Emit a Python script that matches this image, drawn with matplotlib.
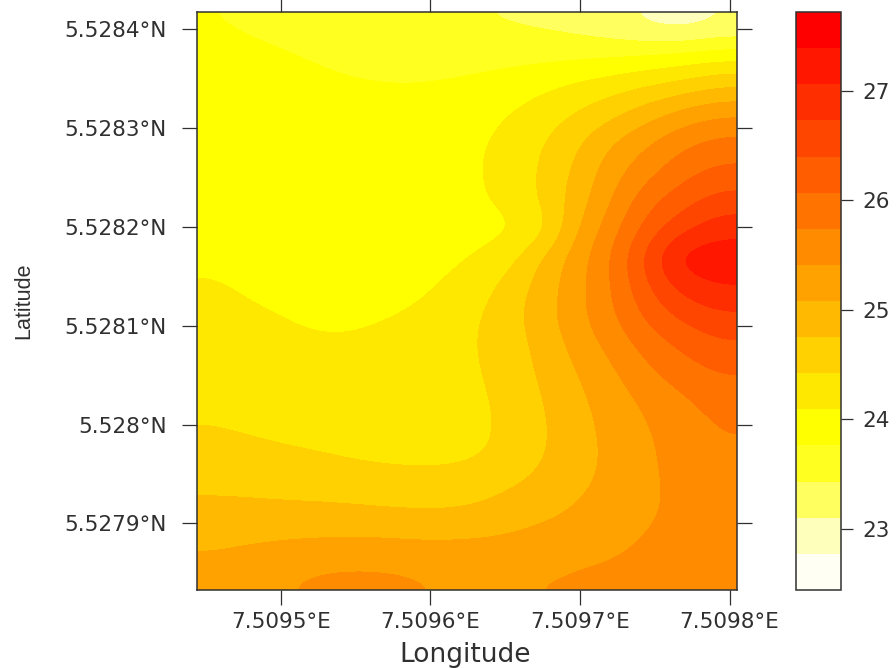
"""
Temperature-style level plot over longitude/latitude with a stepped heat colour bar.
"""

import numpy as np
import matplotlib
matplotlib.use("Agg")
import matplotlib.pyplot as plt
from matplotlib.colors import BoundaryNorm, ListedColormap

lon = [7.509456, 7.509480, 7.509504, 7.509528, 7.509552, 7.509576, 7.509600, 7.509624,
       7.509648, 7.509672, 7.509696, 7.509720, 7.509745, 7.509769, 7.509793]
lat = [5.528403, 5.528374, 5.528344, 5.528315, 5.528286, 5.528256, 5.528227, 5.528198, 5.528168, 5.528139,
       5.528110, 5.528080, 5.528052, 5.528023, 5.527994, 5.527964, 5.527935, 5.527906, 5.527876, 5.527847]

# one row per latitude, north to south
values = [
    [23.77, 23.70, 23.66, 23.62, 23.58, 23.54, 23.48, 23.44, 23.42, 23.38, 23.32, 23.20, 23.04, 22.94, 23.10],
    [23.95, 23.85, 23.78, 23.72, 23.67, 23.64, 23.62, 23.62, 23.64, 23.66, 23.68, 23.72, 23.78, 23.86, 23.95],
    [24.00, 23.95, 23.88, 23.82, 23.78, 23.76, 23.77, 23.82, 23.90, 24.00, 24.13, 24.25, 24.39, 24.52, 24.70],
    [24.02, 23.98, 23.95, 23.92, 23.90, 23.90, 23.92, 23.98, 24.06, 24.22, 24.43, 24.65, 24.93, 25.20, 25.36],
    [24.03, 24.00, 23.98, 23.97, 23.97, 23.97, 24.00, 24.03, 24.13, 24.38, 24.67, 25.07, 25.38, 25.68, 25.85],
    [24.04, 24.02, 24.00, 24.00, 24.00, 24.00, 24.02, 24.03, 24.17, 24.43, 24.80, 25.27, 25.62, 25.96, 26.15],
    [24.04, 24.02, 24.01, 24.00, 24.00, 24.01, 24.03, 24.03, 24.12, 24.43, 24.88, 25.39, 25.97, 26.27, 26.53],
    [24.05, 24.03, 24.02, 24.01, 24.01, 24.02, 24.03, 24.03, 23.98, 24.18, 25.02, 25.60, 26.20, 26.65, 26.95],
    [24.05, 24.03, 24.02, 24.01, 24.01, 24.02, 24.04, 24.05, 24.22, 24.74, 25.24, 25.75, 26.55, 27.30, 27.30],
    [24.11, 24.06, 24.03, 24.01, 24.00, 24.02, 24.06, 24.18, 24.50, 24.85, 25.27, 25.72, 26.38, 26.88, 27.08],
    [24.16, 24.12, 24.08, 24.05, 24.05, 24.08, 24.15, 24.33, 24.58, 24.90, 25.30, 25.68, 26.15, 26.50, 26.68],
    [24.23, 24.19, 24.14, 24.11, 24.12, 24.18, 24.27, 24.38, 24.53, 24.84, 25.17, 25.52, 25.88, 26.15, 26.36],
    [24.29, 24.27, 24.24, 24.22, 24.22, 24.26, 24.31, 24.37, 24.48, 24.79, 25.06, 25.34, 25.67, 25.92, 26.08],
    [24.36, 24.34, 24.33, 24.32, 24.32, 24.34, 24.36, 24.37, 24.43, 24.72, 24.98, 25.24, 25.47, 25.67, 25.88],
    [24.43, 24.39, 24.37, 24.36, 24.36, 24.37, 24.38, 24.37, 24.42, 24.69, 24.93, 25.18, 25.39, 25.57, 25.74],
    [24.58, 24.52, 24.47, 24.43, 24.39, 24.37, 24.37, 24.38, 24.46, 24.72, 24.94, 25.15, 25.35, 25.55, 25.70],
    [24.71, 24.69, 24.66, 24.64, 24.60, 24.56, 24.54, 24.57, 24.73, 24.88, 25.02, 25.17, 25.35, 25.50, 25.62],
    [24.88, 24.89, 24.89, 24.89, 24.88, 24.86, 24.84, 24.87, 24.95, 25.03, 25.13, 25.28, 25.39, 25.47, 25.53],
    [25.05, 25.10, 25.14, 25.17, 25.19, 25.17, 25.15, 25.16, 25.17, 25.24, 25.32, 25.36, 25.45, 25.50, 25.52],
    [25.23, 25.30, 25.40, 25.47, 25.49, 25.47, 25.41, 25.37, 25.39, 25.41, 25.44, 25.47, 25.50, 25.52, 25.54],
]

levels = [22.44, 22.77, 23.10, 23.43, 23.76, 24.09, 24.42, 24.75, 25.08,
          25.41, 25.74, 26.07, 26.40, 26.73, 27.06, 27.39, 27.72]
band_colors = ["#FFFFF4", "#FFFFBC", "#FFFF60", "#FFFF20", "#FFFF00", "#FFE800", "#FFD100", "#FFB900",
               "#FFA200", "#FF8B00", "#FF7400", "#FF5D00", "#FF4600", "#FF2E00", "#FF1700", "#FF0000"]

lon_ticks = [7.5095, 7.5096, 7.5097, 7.5098]
lon_labels = ["7.5095°E", "7.5096°E", "7.5097°E", "7.5098°E"]
lat_ticks = [5.5279, 5.5280, 5.5281, 5.5282, 5.5283, 5.5284]
lat_labels = ["5.5279°N", "5.528°N", "5.5281°N", "5.5282°N", "5.5283°N", "5.5284°N"]
bar_ticks = [23, 24, 25, 26, 27]

W, H = 896, 668
INK = "#303030"

plt.rcParams["font.family"] = ["DejaVu Sans"]

fig = plt.figure(figsize=(W / 100, H / 100), dpi=100)
ax = fig.add_axes([197 / W, (H - 590) / H, 540 / W, 578 / H])
cax = fig.add_axes([796 / W, (H - 590) / H, 45 / W, 578 / H])

cmap = ListedColormap(band_colors)
norm = BoundaryNorm(levels, cmap.N)

half_x = (lon[1] - lon[0]) / 2
half_y = (lat[0] - lat[1]) / 2
im = ax.imshow(np.array(values), cmap=cmap, norm=norm, aspect="auto",
               interpolation="bicubic", interpolation_stage="data",
               extent=[lon[0] - half_x, lon[-1] + half_x, lat[-1] - half_y, lat[0] + half_y])

ax.set_xticks(lon_ticks)
ax.set_xticklabels(lon_labels)
ax.set_yticks(lat_ticks)
ax.set_yticklabels(lat_labels)
ax.tick_params(axis="x", top=True, direction="out", length=10.8, width=0.9, color=INK,
               labelsize=15.5, labelcolor=INK, pad=5)
ax.tick_params(axis="y", right=True, direction="out", length=10.8, width=0.9, color=INK,
               labelsize=15.5, labelcolor=INK, pad=11)
for spine in ax.spines.values():
    spine.set_color(INK)
    spine.set_linewidth(1.1)

fig.text(465 / W, 1 - 655 / H, "Longitude", ha="center", va="center", fontsize=19, color=INK)
fig.text(24 / W, 1 - 301 / H, "Latitude", ha="center", va="center", rotation=90, fontsize=15.5,
         family=["Liberation Sans"], color=INK)

cbar = fig.colorbar(im, cax=cax, ticks=bar_ticks, spacing="proportional", drawedges=False)
cbar.ax.minorticks_off()
cbar.ax.tick_params(length=8.6, width=0.9, color=INK, labelsize=15.5, labelcolor=INK, pad=7)
cbar.outline.set_edgecolor(INK)
cbar.outline.set_linewidth(1.1)

fig.savefig("out.png", dpi=100)
plt.close(fig)
